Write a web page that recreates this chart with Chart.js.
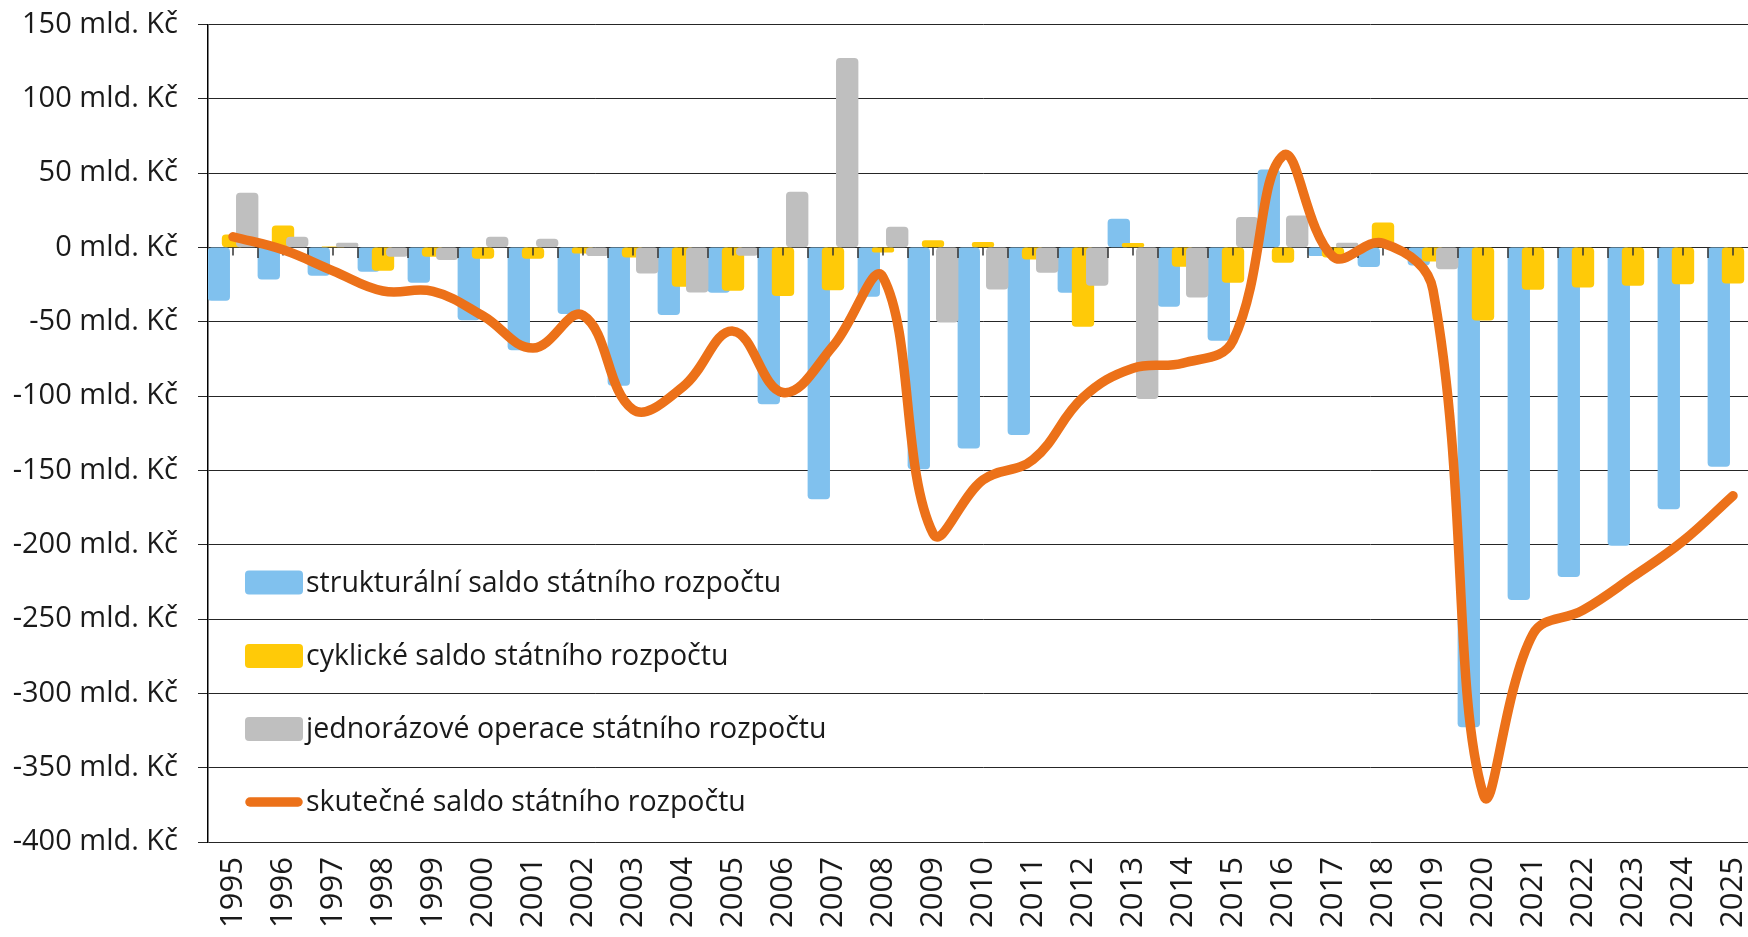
<!DOCTYPE html>
<html>
<head>
<meta charset="utf-8">
<script src="https://cdn.jsdelivr.net/npm/chart.js@4.4.1/dist/chart.umd.min.js"></script>
<style>
    html, body { margin: 0; padding: 0; background: #fff; overflow: hidden; }
    #wrap { width: 1748px; height: 937px; overflow: hidden; }
</style>
</head>
<body>
<div id="wrap"><canvas id="chart" width="1760" height="937"></canvas></div>
<script>
// Categories (years)
const years = ['1995', '1996', '1997', '1998', '1999', '2000', '2001', '2002', '2003', '2004',
    '2005', '2006', '2007', '2008', '2009', '2010', '2011', '2012', '2013', '2014',
    '2015', '2016', '2017', '2018', '2019', '2020', '2021', '2022', '2023', '2024', '2025'];

// Series values (mld. Kč)
const structural = [-35.7, -21.3, -18.8, -16.2, -23.6, -48.7, -68.9, -44.6, -92.9, -45.3,
    -30.3, -105.2, -169.1, -33, -149, -135, -126, -30.3, 19.1, -39.7,
    -62.6, 52.3, -5.6, -13, -12, -322.6, -237, -221.5, -200.5, -175.9, -147.4];
const cyclical = [8.5, 14.6, 0.3, -15.5, -6, -7.4, -7.4, -3.8, -6.5, -26.2,
    -28.9, -32.5, -28.5, -3.1, 4.7, 3.4, -7.9, -53.2, 2.7, -12.8,
    -23.6, -10.1, -6.5, 16.5, -9.3, -48.9, -28.2, -26.7, -25.5, -24.6, -24];
const oneOff = [36.6, 7, 2.9, -6, -8.3, 7, 5.6, -5.6, -17.3, -30,
    -5.4, 37.2, 127.2, 13.7, -50.2, -28, -16.8, -25.6, -101.8, -33.4,
    20.2, 21.3, 2.9, null, -14.4, null, null, null, null, null, null];
const actual = [7.2, -1.6, -15.7, -29.3, -29.6, -46.1, -67.7, -45.7, -109.1, -93.7,
    -56.3, -97.6, -66.4, -20.0, -192.4, -156.4, -142.8, -101.0, -81.3, -77.8,
    -62.8, 61.8, -6.2, 2.9, -28.5, -367.4, -260, -244, -221.5, -197.5, -167];

// Y axis ticks
const yMin = -400;
const yMax = 150;
const yStep = 50;
const yUnit = ' mld. Kč';

const labels = {
    structural: 'strukturální saldo státního rozpočtu',
    cyclical: 'cyklické saldo státního rozpočtu',
    oneOff: 'jednorázové operace státního rozpočtu',
    actual: 'skutečné saldo státního rozpočtu'
};

const FONT = '"Open Sans", sans-serif';
const TEXT = '#1a1a1a';
const GRID = '#262626';

// bars overlap inside each year: shift (in categories) from the year centre
const shift = 0.284;
const barW = 21.7;

function barSeries(values, offset) {
    return values.map((v, i) => ({ x: i + offset, y: v }));
}

// Ticks on the zero line (drawn above bars, under the line)
const zeroTicks = {
    id: 'zeroTicks',
    afterDatasetDraw(chart, args) {
        if (args.index !== 2) return;
        const ctx = chart.ctx;
        const xs = chart.scales.x;
        const y0 = chart.scales.y.getPixelForValue(0);
        const w = (xs.right - xs.left) / years.length;
        ctx.save();
        ctx.strokeStyle = '#333';
        ctx.lineWidth = 1.5;
        ctx.beginPath();
        for (let i = 0; i < years.length; i++) {
            const c = xs.getPixelForValue(i);
            ctx.moveTo(c, y0);
            ctx.lineTo(c, y0 + 8);
            const b = xs.left + (i + 1) * w;
            ctx.moveTo(b, y0);
            ctx.lineTo(b, y0 + 10.5);
        }
        ctx.stroke();
        ctx.restore();
    }
};

// Legend inside the plot area
const innerLegend = {
    id: 'innerLegend',
    afterDraw(chart) {
        const ctx = chart.ctx;
        const rows = [582.5, 656, 729, 802];
        const x = 245;
        ctx.save();
        ctx.font = '28.5px ' + FONT;
        ctx.textBaseline = 'middle';
        ctx.textAlign = 'left';
        chart.data.datasets.forEach((ds, i) => {
            const cy = rows[i];
            if (ds.type === 'line') {
                ctx.strokeStyle = ds.borderColor;
                ctx.lineWidth = 9.5;
                ctx.lineCap = 'round';
                ctx.beginPath();
                ctx.moveTo(x + 5, cy);
                ctx.lineTo(x + 53, cy);
                ctx.stroke();
            } else {
                ctx.fillStyle = ds.backgroundColor;
                ctx.beginPath();
                ctx.roundRect(x, cy - 12, 58, 24, 4);
                ctx.fill();
            }
            ctx.fillStyle = TEXT;
            ctx.fillText(ds.label, x + 61, cy + 1);
        });
        ctx.restore();
    }
};

const ctx = document.getElementById('chart').getContext('2d');
new Chart(ctx, {
    type: 'bar',
    data: {
        labels: years,
        datasets: [
            {
                label: labels.structural,
                data: barSeries(structural, -shift),
                xAxisID: 'xb',
                backgroundColor: '#80C1EE',
                order: 3
            },
            {
                label: labels.cyclical,
                data: barSeries(cyclical, 0),
                xAxisID: 'xb',
                backgroundColor: '#FFCA08',
                order: 2
            },
            {
                label: labels.oneOff,
                data: barSeries(oneOff, shift),
                xAxisID: 'xb',
                backgroundColor: '#BFBFBF',
                order: 1
            },
            {
                type: 'line',
                label: labels.actual,
                data: actual,
                xAxisID: 'x',
                borderColor: '#EC7119',
                borderWidth: 9.5,
                borderCapStyle: 'round',
                borderJoinStyle: 'round',
                pointRadius: 0,
                tension: 0.4,
                fill: false,
                order: 0
            }
        ]
    },
    options: {
        responsive: false,
        animation: false,
        devicePixelRatio: 1,
        layout: { padding: { top: 24.5, right: 2, left: 0, bottom: 0 } },
        datasets: {
            bar: {
                grouped: false,
                barThickness: barW,
                borderRadius: 4,
                borderSkipped: false
            }
        },
        scales: {
            x: {
                type: 'category',
                offset: true,
                grid: { display: false, drawTicks: false },
                border: { display: false },
                ticks: {
                    color: TEXT,
                    font: { family: FONT, size: 31 },
                    minRotation: 90,
                    maxRotation: 90,
                    autoSkip: false,
                    padding: 15
                },
                afterFit(scale) {
                    scale.height = 95;
                    scale.paddingLeft = 0;
                    scale.paddingRight = 0;
                }
            },
            xb: {
                type: 'linear',
                display: false,
                offset: false,
                grid: { offset: false },
                min: -0.5,
                max: years.length - 0.5
            },
            y: {
                min: yMin,
                max: yMax,
                grid: {
                    color: GRID,
                    lineWidth: 1,
                    tickLength: 10,
                    drawTicks: true
                },
                border: { display: true, color: '#000', width: 1.5 },
                ticks: {
                    stepSize: yStep,
                    color: TEXT,
                    font: { family: FONT, size: 29 },
                    padding: 20,
                    callback: v => v + yUnit
                },
                afterFit(scale) {
                    scale.width = 208;
                    scale.paddingTop = 0;
                    scale.paddingBottom = 0;
                }
            }
        },
        plugins: {
            legend: { display: false },
            tooltip: { enabled: false }
        }
    },
    plugins: [zeroTicks, innerLegend]
});
</script>
</body>
</html>
